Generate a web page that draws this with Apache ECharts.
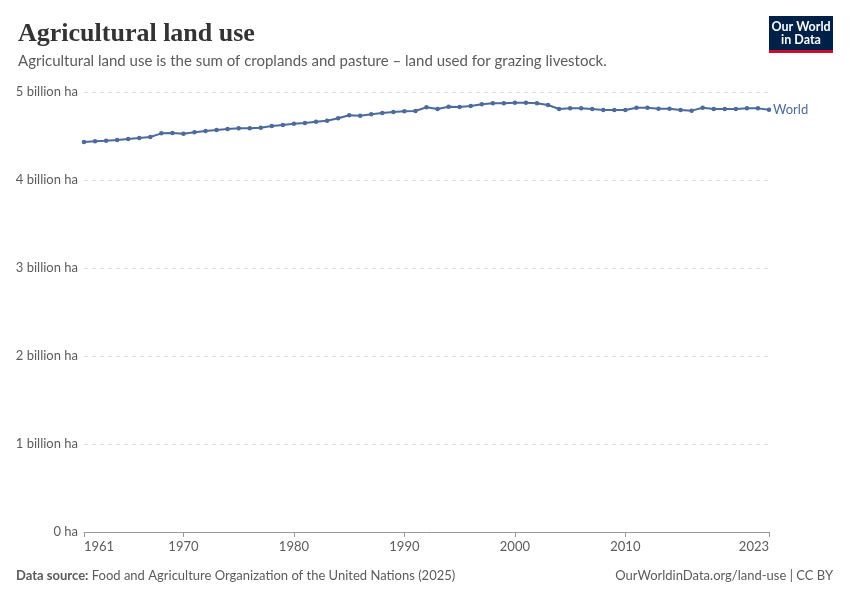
<!DOCTYPE html>
<html>
<head>
<meta charset="utf-8">
<script src="https://cdn.jsdelivr.net/npm/echarts@6/dist/echarts.min.js"></script>
<style>
  html, body { margin: 0; padding: 0; background: #fff; }
  #chart { width: 850px; height: 600px; }
</style>
</head>
<body>
<div id="chart"></div>
<script>
// years 1961..2023
var years = [];
for (var y = 1961; y <= 2023; y++) years.push(y);

// World agricultural land, billion ha
var worldValues = [
    4.432, 4.440, 4.447, 4.455, 4.466, 4.477, 4.489, 4.530, 4.534, 4.526,
    4.542, 4.557, 4.568, 4.580, 4.587, 4.587, 4.595, 4.614, 4.625, 4.640,
    4.648, 4.663, 4.674, 4.701, 4.735, 4.731, 4.746, 4.761, 4.773, 4.780,
    4.784, 4.826, 4.807, 4.833, 4.830, 4.841, 4.860, 4.871, 4.871, 4.879,
    4.879, 4.871, 4.852, 4.807, 4.814, 4.814, 4.807, 4.795, 4.795, 4.795,
    4.822, 4.822, 4.810, 4.810, 4.795, 4.788, 4.822, 4.807, 4.807, 4.807,
    4.814, 4.814, 4.799
];

var xTickYears = [1961, 1970, 1980, 1990, 2000, 2010, 2023];

var lineColor = '#4c6a9c';
var textGrey = '#5b5b5b';

var chart = echarts.init(document.getElementById('chart'), null, { renderer: 'canvas' });

var option = {
    animation: false,
    backgroundColor: '#fff',
    title: {
        text: 'Agricultural land use',
        left: 13,
        top: 16,
        textStyle: {
            fontFamily: 'Liberation Serif',
            fontSize: 26,
            fontWeight: 'bold',
            color: '#333'
        },
        subtext: 'Agricultural land use is the sum of croplands and pasture – land used for grazing livestock.',
        subtextStyle: {
            fontFamily: 'Lato',
            fontSize: 15,
            color: textGrey
        },
        itemGap: 7
    },
    grid: {
        left: 84,
        right: 81,
        top: 92,
        bottom: 68,
        containLabel: false
    },
    xAxis: {
        type: 'value',
        min: 1961,
        max: 2023,
        splitLine: { show: false },
        axisLine: { lineStyle: { color: '#999' } },
        axisTick: {
            show: true,
            length: 5,
            customValues: xTickYears,
            lineStyle: { color: '#999' }
        },
        axisLabel: {
            customValues: xTickYears,
            formatter: function (v) { return String(v); },
            fontFamily: 'Lato',
            fontSize: 13,
            color: textGrey,
            margin: 8,
            alignMinLabel: 'left',
            alignMaxLabel: 'right'
        }
    },
    yAxis: {
        type: 'value',
        min: 0,
        max: 5,
        interval: 1,
        axisLine: { show: false },
        axisTick: { show: false },
        splitLine: {
            lineStyle: { type: [4, 4], color: '#dddddd' }
        },
        axisLabel: {
            fontFamily: 'Lato',
            fontSize: 13,
            color: textGrey,
            margin: 6,
            formatter: function (v) { return v === 0 ? '0 ha' : v + ' billion ha'; }
        }
    },
    series: [{
        name: 'World',
        type: 'line',
        data: years.map(function (yr, i) { return [yr, worldValues[i]]; }),
        symbol: 'circle',
        symbolSize: 4.5,
        lineStyle: { color: lineColor, width: 2 },
        itemStyle: { color: lineColor },
        endLabel: {
            show: true,
            formatter: 'World',
            color: lineColor,
            fontFamily: 'Lato',
            fontSize: 13,
            distance: 4
        }
    }],
    graphic: [
        {
            type: 'group',
            right: 17,
            top: 16,
            children: [
                { type: 'rect', shape: { x: 0, y: 0, width: 64, height: 34 }, style: { fill: '#002147' } },
                { type: 'rect', shape: { x: 0, y: 34, width: 64, height: 3 }, style: { fill: '#c8102e' } },
                { type: 'text', x: 32, y: 10.5, style: { text: 'Our World', fill: '#fff', font: 'bold 12.5px Lato', align: 'center', verticalAlign: 'middle' } },
                { type: 'text', x: 32, y: 24, style: { text: 'in Data', fill: '#fff', font: 'bold 12.5px Lato', align: 'center', verticalAlign: 'middle' } }
            ]
        },
        {
            type: 'text',
            left: 16,
            top: 569,
            style: {
                text: '{b|Data source:} Food and Agriculture Organization of the United Nations (2025)',
                rich: {
                    b: { fontFamily: 'Lato', fontSize: 13, fontWeight: 'bold', fill: textGrey }
                },
                fontFamily: 'Lato',
                fontSize: 13,
                fill: textGrey
            }
        },
        {
            type: 'text',
            right: 17,
            top: 569,
            style: {
                text: 'OurWorldinData.org/land-use | CC BY',
                fontFamily: 'Lato',
                fontSize: 13,
                fill: textGrey
            }
        }
    ]
};

chart.setOption(option);
window.addEventListener('resize', function () { chart.resize(); });
</script>
</body>
</html>
